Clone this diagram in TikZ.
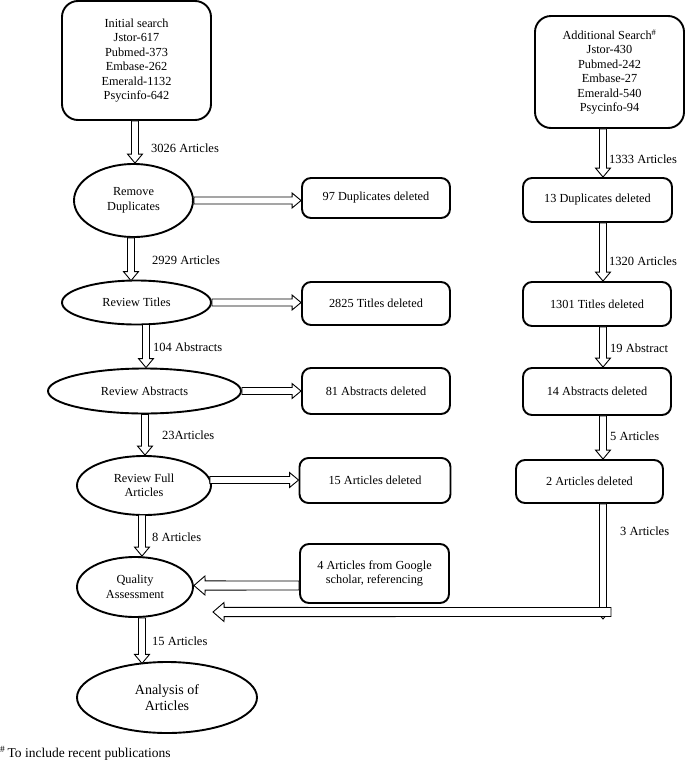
\documentclass[tikz,border=0pt]{standalone}
\usepackage{fontspec}
\setmainfont{Liberation Serif}
\usetikzlibrary{calc,shapes.geometric}
\begin{document}
\begin{tikzpicture}[x=1pt,y=-1pt,
  box/.style={draw, line width=1.9pt, rounded corners=9pt, align=center,
    font=\fontsize{12.3}{14.5}\selectfont, inner sep=0pt},
  bigbox/.style={box, rounded corners=16pt},
  oval/.style={draw, ellipse, line width=1.9pt, align=center,
    font=\fontsize{12.3}{14.5}\selectfont, inner sep=0pt},
  lbl/.style={anchor=west, font=\fontsize{12.5}{15}\selectfont, inner sep=0pt},
  harrow/.style={draw, line width=0.9pt, fill=white, to path={
    ($(\tikztostart)!3.5pt!-90:(\tikztotarget)$)
    -- ($(\tikztotarget)!9.657pt!21.25:(\tikztostart)$)
    -- ($(\tikztotarget)!11.715pt!39.81:(\tikztostart)$)
    -- (\tikztotarget)
    -- ($(\tikztotarget)!11.715pt!-39.81:(\tikztostart)$)
    -- ($(\tikztotarget)!9.657pt!-21.25:(\tikztostart)$)
    -- ($(\tikztostart)!3.5pt!90:(\tikztotarget)$) -- cycle}},
  barrow/.style={draw, line width=0.9pt, fill=white, to path={
    ($(\tikztostart)!4.5pt!-90:(\tikztotarget)$)
    -- ($(\tikztotarget)!12.083pt!22.25:(\tikztostart)$)
    -- ($(\tikztotarget)!14.534pt!40.82:(\tikztostart)$)
    -- (\tikztotarget)
    -- ($(\tikztotarget)!14.534pt!-40.82:(\tikztostart)$)
    -- ($(\tikztotarget)!12.083pt!-22.25:(\tikztostart)$)
    -- ($(\tikztostart)!4.5pt!90:(\tikztotarget)$) -- cycle}}
]
\useasboundingbox (0,0) rectangle (685,761);

% left column
\node[bigbox, minimum width=149pt, minimum height=119pt] (init) at (136.5,60.5)
  {Initial search\\Jstor-617\\Pubmed-373\\Embase-262\\Emerald-1132\\Psycinfo-642};
\node[oval, minimum width=119pt, minimum height=73pt] (rd) at (133.5,200.5) {Remove\\Duplicates};
\node[oval, minimum width=149pt, minimum height=44pt] (rt) at (136.5,302.5) {Review Titles};
\node[oval, minimum width=193pt, minimum height=45pt] (ra) at (144.5,391) {Review Abstracts};
\node[oval, minimum width=134pt, minimum height=59pt] (rf) at (144,485.5) {Review Full\\Articles};
\node[oval, minimum width=116pt, minimum height=60pt] (qa) at (135,587) {Quality\\Assessment};
\node[oval, minimum width=180pt, minimum height=71pt, font=\fontsize{14}{16}\selectfont] (an) at (167,697.5) {Analysis of\\Articles};

% middle column
\node[box, minimum width=148pt, minimum height=40pt] (d97) at (376,198) {97 Duplicates deleted};
\node[box, minimum width=148pt, minimum height=43pt] (t2825) at (376,303.5) {2825 Titles deleted};
\node[box, minimum width=148pt, minimum height=46pt] (a81) at (376,391) {81 Abstracts deleted};
\node[box, minimum width=151pt, minimum height=45pt] (a15) at (375,480.5) {15 Articles deleted};
\node[box, minimum width=149pt, minimum height=59pt] (g4) at (374.5,573.5) {4 Articles from Google\\scholar, referencing};

% right column
\node[bigbox, minimum width=149pt, minimum height=112pt] (addl) at (609.5,72)
  {Additional Search\textsuperscript{\#}\\Jstor-430\\Pubmed-242\\Embase-27\\Emerald-540\\Psycinfo-94};
\node[box, minimum width=149pt, minimum height=44pt] (d13) at (597.5,200) {13 Duplicates deleted};
\node[box, minimum width=148pt, minimum height=44pt] (t1301) at (597,304) {1301 Titles deleted};
\node[box, minimum width=148pt, minimum height=47pt] (a14) at (597,391.5) {14 Abstracts deleted};
\node[box, minimum width=147pt, minimum height=43pt] (a2) at (589.5,481.5) {2 Articles deleted};

% column coordinates
\coordinate (x135) at (135,0);
\coordinate (x131) at (131,0);
\coordinate (x146) at (146,0);
\coordinate (x145) at (145,0);
\coordinate (x142) at (142,0);
\coordinate (xr) at (603,0);
\coordinate (corner) at (603,619);
\coordinate (hr) at (611,612);
\coordinate (hl) at (213,612);
\coordinate (rfe) at (209.8,480);

% vertical arrows left
\path[harrow] (init.south -| x135) to (rd.north -| x135);
\path[harrow] (x131 |- rd.south) to (x131 |- 0,280.6);
\path[harrow] (x146 |- 0,324.3) to (x146 |- ra.north);
\path[harrow] (x145 |- ra.south) to (x145 |- rf.north);
\path[harrow] (x142 |- 0,514.8) to (x142 |- qa.north);
\path[harrow] (x142 |- qa.south) to (x142 |- 0,663.4);

% horizontal arrows
\path[harrow] (rd.east) to (d97.west |- rd.east);
\path[harrow] (rt.east) to (t2825.west |- rt.east);
\path[harrow] (ra.east) to (a81.west |- ra.east);
\path[harrow] (rfe) to (a15.west |- rfe);
\path[barrow] (g4.west |- 0,585.5) to (qa.east |- 0,585.5);

% right column arrows
\path[harrow] (addl.south -| xr) to (d13.north -| xr);
\path[harrow] (d13.south -| xr) to (t1301.north -| xr);
\path[harrow] (t1301.south -| xr) to (a14.north -| xr);
\path[harrow] (a14.south -| xr) to (a2.north -| xr);
\path[harrow] (a2.south -| xr) to (corner);
\path[barrow] (hr) to (hl);

% labels
\node[lbl] at (151,148) {3026 Articles};
\node[lbl] at (152,260) {2929 Articles};
\node[lbl] at (153,347) {104 Abstracts};
\node[lbl] at (162,435) {23Articles};
\node[lbl] at (152,537) {8 Articles};
\node[lbl] at (152,641) {15 Articles};
\node[lbl] at (609,159) {1333 Articles};
\node[lbl] at (609,261) {1320 Articles};
\node[lbl] at (610,348) {19 Abstract};
\node[lbl] at (610,436) {5 Articles};
\node[lbl] at (620,531) {3 Articles};

\node[anchor=west, inner sep=0pt, font=\fontsize{13.5}{15}\selectfont] (fn) at (0,753)
  {\textsuperscript{\#}\,To include recent publications};
\end{tikzpicture}
\end{document}
